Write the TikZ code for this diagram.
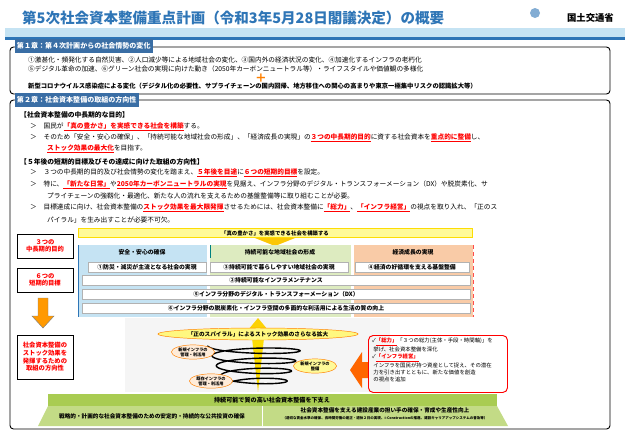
\documentclass[tikz,border=0pt]{standalone}
\usepackage{fontspec}
\setmainfont{Noto Sans CJK JP}
\usepackage{xcolor}
\usetikzlibrary{positioning,shapes.geometric,arrows.meta}
\definecolor{mlitblue}{HTML}{2E75B6}
\definecolor{hdblue}{HTML}{3A6EA5}
\definecolor{gbar}{HTML}{A9CC52}
\definecolor{lblue}{HTML}{C5E3F3}
\definecolor{lgreen}{HTML}{DDEBC0}
\definecolor{lorange}{HTML}{F9CBA7}
\newcommand{\hl}[1]{{\color{red}\bfseries\underline{#1}}}
\tikzset{
  x=0.03cm, y=-0.03cm,
  txt/.style={anchor=west, inner sep=0pt, font=\fontsize{5.7}{6}\selectfont},
  chap/.style={draw=hdblue, fill=hdblue, text=white, anchor=west, font=\fontsize{6}{7}\bfseries\selectfont, inner sep=1.5pt, minimum height=11pt},
  lbox/.style={draw, thick, fill=white, text=red, align=center, font=\fontsize{5.4}{6.6}\bfseries\selectfont, minimum width=56*0.03cm},
  colhd/.style={minimum height=13*0.03cm, font=\fontsize{5}{6}\bfseries\selectfont, inner sep=0pt},
  goal/.style={draw=gray!60, fill=white, font=\fontsize{5}{6}\bfseries\selectfont, inner sep=0pt, minimum height=10*0.03cm},
  bub/.style={ellipse, draw=orange, fill=yellow!40, font=\fontsize{3.6}{4.2}\bfseries\selectfont, align=center, inner sep=0.5pt},
}
\begin{document}
\begin{tikzpicture}
\useasboundingbox (0,0) rectangle (625,434);
% title
\node[anchor=west, text=mlitblue, font=\fontsize{12.4}{13}\bfseries\selectfont] (title) at (18,18) {第5次社会資本整備重点計画（令和3年5月28日閣議決定）の概要};
\node[anchor=east, font=\fontsize{8}{9}\bfseries\selectfont] (logo) at (618,18) {国土交通省};
\fill[mlitblue!60] (535,13) circle (5);
\fill[lblue] (5,28) rectangle (625,37);
\fill[mlitblue] (5,37) rectangle (625,40);

% chapter 1
\draw[thick, rounded corners=3] (10,47) rectangle (610,94);
\node[chap] (c1) at (15,46) {第１章：第４次計画からの社会情勢の変化};
\node[txt] (c1a) at (28,60) {①激甚化・頻発化する自然災害、②人口減少等による地域社会の変化、③国内外の経済状況の変化、④加速化するインフラの老朽化};
\node[txt] (c1b) at (28,69) {⑤デジタル革命の加速、⑥グリーン社会の実現に向けた動き（2050年カーボンニュートラル等）・ライフスタイルや価値観の多様化};
\node[text=orange, font=\fontsize{10}{10}\bfseries\selectfont, inner sep=0pt] (plus) at (261,78) {＋};
\node[txt, font=\fontsize{5.4}{6}\bfseries\selectfont] (c1c) at (28,86) {新型コロナウイルス感染症による変化（デジタル化の必要性、サプライチェーンの国内回帰、地方移住への関心の高まりや東京一極集中リスクの認識拡大等）};

% chapter 2
\draw[thick, rounded corners=3] (10,100) rectangle (610,429);
\node[chap] (c2) at (15,100) {第２章：社会資本整備の取組の方向性};
\node[txt, font=\fontsize{5.8}{6}\bfseries\selectfont] (h1) at (20,115) {【社会資本整備の中長期的な目的】};
\node[txt] (b1) at (30,127) {＞\quad 国民が\hl{「真の豊かさ」を実感できる社会を構築}する。};
\node[txt] (b2) at (30,138) {＞\quad そのため「安全・安心の確保」、「持続可能な地域社会の形成」、「経済成長の実現」の\hl{３つの中長期的目的}に資する社会資本を\hl{重点的に整備}し、};
\node[txt] (b2b) at (47,149) {\hl{ストック効果の最大化}を目指す。};
\node[txt, font=\fontsize{5.8}{6}\bfseries\selectfont] (h2) at (20,162) {【５年後の短期的目標及びその達成に向けた取組の方向性】};
\node[txt] (b3) at (30,173) {＞\quad ３つの中長期的目的及び社会情勢の変化を踏まえ、\hl{５年後を目途}に\hl{６つの短期的目標}を設定。};
\node[txt] (b4) at (30,185) {＞\quad 特に、\hl{「新たな日常」}や\hl{2050年カーボンニュートラルの実現}を見据え、インフラ分野のデジタル・トランスフォーメーション（DX）や脱炭素化、サ};
\node[txt] (b4b) at (47,196) {プライチェーンの強靱化・最適化、新たな人の流れを支えるための基盤整備等に取り組むことが必要。};
\node[txt] (b5) at (30,208) {＞\quad 目標達成に向け、社会資本整備の\hl{ストック効果を最大限発揮}させるためには、社会資本整備に\hl{「総力」}、\hl{「インフラ経営」}の視点を取り入れ、「正のス};
\node[txt] (b5b) at (47,220) {パイラル」を生み出すことが必要不可欠。};

% banner
\node[draw=yellow!80!orange, fill=yellow!40, minimum width=394*0.03cm, minimum height=9*0.03cm, inner sep=0pt, font=\fontsize{4.6}{5}\bfseries\selectfont] (goal0) at (275,233) {「真の豊かさ」を実感できる社会を構築する};
\fill[yellow!60!orange] (255,238) -- (295,238) -- (275,246) -- cycle;

% left boxes
\node[lbox, minimum height=24*0.03cm] (m3) at (45,246) {３つの\\中長期的目的};
\node[lbox, minimum height=24*0.03cm] (s6) at (45,280) {６つの\\短期的目標};
\node[lbox, minimum height=44*0.03cm, text width=46*0.03cm] (dir) at (45,357) {社会資本整備の\\ストック効果を\\発揮するための\\取組の方向性};
\draw[draw=gray, fill=orange!80!yellow, line width=0.4pt] (38,298) -- (48,298) -- (48,316) -- (54,316) -- (43,328) -- (32,316) -- (38,316) -- cycle;

% columns
\fill[lblue] (78,245) rectangle (207,317);
\fill[lgreen] (210,245) rectangle (351,317);
\fill[lorange] (354,245) rectangle (473,317);
\draw[mlitblue, thick] (78,245) -- (78,317);
\draw[teal, thick] (210,245) -- (210,258);
\draw[red!70, thick, dashed] (473,245) -- (473,317);
\node[colhd] (p1) at (142,252) {安全・安心の確保};
\node[colhd] (p2) at (280,252) {持続可能な地域社会の形成};
\node[colhd] (p3) at (413,252) {経済成長の実現};
\node[goal, minimum width=118*0.03cm] (g1) at (147,267) {①防災・減災が主流となる社会の実現};
\node[goal, minimum width=138*0.03cm] (g3) at (279,267) {③持続可能で暮らしやすい地域社会の実現};
\node[goal, minimum width=114*0.03cm] (g4) at (412,267) {④経済の好循環を支える基盤整備};
\node[goal, minimum width=388*0.03cm] (g2) at (276,280) {②持続可能なインフラメンテナンス};
\node[goal, minimum width=388*0.03cm] (g5) at (276,294) {⑤インフラ分野のデジタル・トランスフォーメーション（DX）};
\node[goal, minimum width=388*0.03cm] (g6) at (276,308) {⑥インフラ分野の脱炭素化・インフラ空間の多面的な利活用による生活の質の向上};

% spiral
\fill[gray!8] (125,318) rectangle (390,392);
\fill[yellow!70!orange] (258,318) -- (248,330) -- (268,330) -- cycle;
\fill[yellow!80!orange] (252,338) -- (264,338) -- (258,392) -- cycle;
\draw[line width=1.2pt, -{Stealth[length=5pt]}] plot[domain=0:1440, samples=240, smooth]
  ({255+(30+0.012*\x)*cos(\x+180)}, {386-0.028*\x+5*sin(\x+180)});
\node[ellipse, draw=orange, fill=yellow!50, inner sep=0.5pt, minimum width=200*0.03cm, minimum height=12*0.03cm, font=\fontsize{4.8}{5}\bfseries\selectfont] (sp) at (258,334) {「正のスパイラル」によるストック効果のさらなる拡大};
\node[bub, fill=orange!15] (n1) at (193,352) {新規インフラの\\管理・利活用};
\node[bub, fill=orange!15] (n2) at (211,381) {既存インフラの\\管理・利活用};
\node[bub] (n3) at (315,366) {新規インフラの\\整備};

% right box
\fill[orange!80!red] (350,370) -- (362,352) -- (362,362) -- (368,362) -- (368,378) -- (362,378) -- (362,388) -- cycle;
\node[draw=red, thick, rounded corners=4, anchor=north west, minimum width=139*0.03cm, minimum height=57*0.03cm, inner sep=1pt] (rb) at (368,335) {};
\node[anchor=north west, align=left, inner sep=0pt, font=\fontsize{4.6}{6.2}\selectfont] (rbt) at (372,338) {✓\hl{「総力」}「３つの総力(主体・手段・時間軸)」を\\\ 挙げ、社会資本整備を深化\\✓\hl{「インフラ経営」}\\\ インフラを国民が持つ資産として捉え、その潜在\\\ 力を引き出すとともに、新たな価値を創造\\\ の視点を追加};

% bottom bands
\fill[gbar] (48,394) rectangle (497,406);
\node[font=\fontsize{5.2}{6}\bfseries\selectfont] (sup) at (272,400) {持続可能で質の高い社会資本整備を下支え};
\fill[gbar!70!white] (48,406) -- (497,406) -- (508,426) -- (38,426) -- cycle;
\draw[white, thick] (262,406) -- (262,426);
\node[font=\fontsize{4.8}{6}\bfseries\selectfont] (f1) at (152,416) {戦略的・計画的な社会資本整備のための安定的・持続的な公共投資の確保};
\node[align=center, font=\fontsize{4.8}{5.6}\bfseries\selectfont] (f2) at (385,414) {社会資本整備を支える建設産業の担い手の確保・育成や生産性向上\\{\fontsize{3}{3.6}\selectfont（適切な賃金水準の確保、長時間労働の是正・週休２日の実現、i-Constructionの推進、建設キャリアアップシステムの普及等）}};
\end{tikzpicture}
\end{document}
